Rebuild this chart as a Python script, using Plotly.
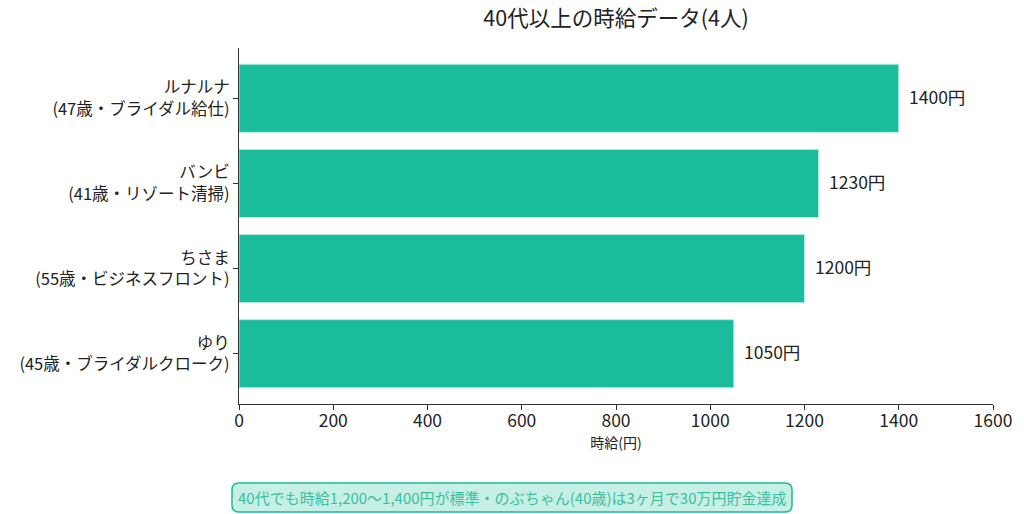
import plotly.graph_objects as go

names = ["ルナルナ<br>(47歳・ブライダル給仕)", "バンビ<br>(41歳・リゾート清掃)",
         "ちさま<br>(55歳・ビジネスフロント)", "ゆり<br>(45歳・ブライダルクローク)"]
wages = [1400, 1230, 1200, 1050]
xticks = [0, 200, 400, 600, 800, 1000, 1200, 1400, 1600]
title = "40代以上の時給データ(4人)"
xlabel = "時給(円)"
note = "40代でも時給1,200〜1,400円が標準・のぶちゃん(40歳)は3ヶ月で30万円貯金達成"

FONT = "Noto Sans CJK JP"
TEAL = "#1abc9c"
pos = list(range(len(names)))

fig = go.Figure()
fig.add_trace(go.Bar(
    x=wages, y=pos, orientation="h", width=0.8,
    marker=dict(color=TEAL, line=dict(color="#b8ece0", width=1)),
    hoverinfo="skip",
))

for p, w in zip(pos, wages):
    fig.add_annotation(x=w, y=p, text=f"{w}円", showarrow=False, xanchor="left",
                       xshift=8, yshift=2, font=dict(size=17.5, color="#222", family=FONT))

# axis geometry (pixels)
L, R, T, B = 239, 31, 48, 110
W, H = 1024 - L - R, 514 - T - B

def px2paper(px, py):
    return (px - L) / W, (514 - B - py) / H

# rounded box for note
x0, y0, x1, y1, r = 232, 483, 792, 512, 7
def P(px, py):
    a, b = px2paper(px, py)
    return f"{a:.5f},{b:.5f}"
path = (f"M {P(x0+r,y0)} L {P(x1-r,y0)} Q {P(x1,y0)} {P(x1,y0+r)} "
        f"L {P(x1,y1-r)} Q {P(x1,y1)} {P(x1-r,y1)} L {P(x0+r,y1)} "
        f"Q {P(x0,y1)} {P(x0,y1-r)} L {P(x0,y0+r)} Q {P(x0,y0)} {P(x0+r,y0)} Z")
fig.add_shape(type="path", path=path, xref="paper", yref="paper",
              fillcolor="#c6f0e5", line=dict(color=TEAL, width=1.5), layer="above")
nx, ny = px2paper((x0 + x1) / 2, (y0 + y1) / 2)
fig.add_annotation(x=nx, y=ny, xref="paper", yref="paper", text=note, showarrow=False,
                   xanchor="center", yanchor="middle",
                   font=dict(size=15, color="#3dbf9f", family=FONT))

fig.update_layout(
    width=1024, height=514,
    margin=dict(l=L, r=R, t=T, b=B),
    plot_bgcolor="white", paper_bgcolor="white",
    showlegend=False,
    font=dict(family=FONT, color="#222"),
    title=dict(text=title, x=(L + W / 2) / 1024, xanchor="center", y=1 - 18 / 514, yanchor="middle",
               font=dict(size=21.5, color="#222", family=FONT)),
    xaxis=dict(range=[0, 1600], tickvals=xticks, ticks="outside", ticklen=5, tickcolor="#333",
               showline=True, linecolor="#333", linewidth=1, showgrid=False, zeroline=False,
               ticklabelstandoff=-4,
               tickfont=dict(size=17.5), title=dict(text=xlabel, font=dict(size=14), standoff=0)),
    yaxis=dict(range=[3.59, -0.59], tickvals=pos, ticktext=names, ticks="outside", ticklen=5,
               tickcolor="#333", showline=True, linecolor="#333", linewidth=1, showgrid=False,
               zeroline=False, tickfont=dict(size=16.5)),
)

fig.write_html("out.html")
